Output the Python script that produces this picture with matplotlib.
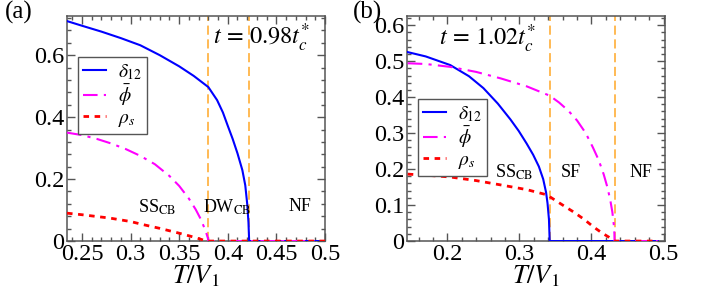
import matplotlib
matplotlib.use("Agg")
import matplotlib.pyplot as plt
from matplotlib.ticker import MultipleLocator

plt.rcParams['font.family'] = ['Liberation Serif', 'DejaVu Serif']
plt.rcParams['mathtext.fontset'] = 'stix'

# panel (a), t = 0.98 t_c*
Ta_delta = [0.2346, 0.25, 0.27, 0.29, 0.31, 0.33, 0.35, 0.365, 0.38, 0.389, 0.395,
            0.40, 0.405, 0.41, 0.415, 0.418, 0.42, 0.4213, 0.422, 0.45, 0.5]
a_delta = [0.71, 0.695, 0.676, 0.655, 0.632, 0.60, 0.564, 0.533, 0.497, 0.455, 0.415,
           0.372, 0.33, 0.283, 0.229, 0.18, 0.12, 0.06, 0.0, 0.0, 0.0]
Ta_phi = [0.2346, 0.25, 0.265, 0.28, 0.295, 0.31, 0.325, 0.34, 0.35, 0.36, 0.367,
          0.372, 0.376, 0.378, 0.3795, 0.38, 0.42, 0.5]
a_phi = [0.35, 0.342, 0.33, 0.315, 0.297, 0.275, 0.248, 0.21, 0.178, 0.137, 0.102,
         0.072, 0.042, 0.025, 0.01, 0.0, 0.0, 0.0]
Ta_rho = [0.2346, 0.25, 0.279, 0.30, 0.313, 0.33, 0.348, 0.36, 0.368, 0.374, 0.378, 0.42, 0.5]
a_rho = [0.09, 0.085, 0.074, 0.063, 0.053, 0.041, 0.027, 0.017, 0.01, 0.004, 0.0, 0.0, 0.0]
a_lines = [0.38, 0.4218]

# panel (b), t = 1.02 t_c*
Tb_delta = [0.145, 0.17, 0.204, 0.23, 0.25, 0.27, 0.2875, 0.299, 0.31, 0.319, 0.327,
            0.333, 0.337, 0.339, 0.341, 0.342, 0.38, 0.43, 0.492]
b_delta = [0.525, 0.513, 0.489, 0.458, 0.425, 0.382, 0.338, 0.306, 0.271, 0.24, 0.207,
           0.172, 0.135, 0.105, 0.06, 0.0, 0.0, 0.0, 0.0]
Tb_phi = [0.145, 0.17, 0.204, 0.24, 0.274, 0.31, 0.342, 0.355, 0.368, 0.38, 0.392,
          0.402, 0.41, 0.417, 0.422, 0.426, 0.429, 0.431, 0.4318, 0.432, 0.46, 0.492]
b_phi = [0.494, 0.492, 0.484, 0.47, 0.452, 0.43, 0.404, 0.385, 0.362, 0.335, 0.30,
         0.26, 0.225, 0.185, 0.15, 0.115, 0.08, 0.045, 0.02, 0.0, 0.0, 0.0]
Tb_rho = [0.145, 0.17, 0.204, 0.24, 0.274, 0.31, 0.339, 0.343, 0.36, 0.375, 0.39,
          0.403, 0.415, 0.424, 0.429, 0.431, 0.46, 0.492]
b_rho = [0.186, 0.183, 0.178, 0.168, 0.156, 0.143, 0.128, 0.122, 0.1, 0.081, 0.06,
         0.039, 0.022, 0.011, 0.004, 0.0, 0.0, 0.0]
b_lines = [0.343, 0.432]

fig = plt.figure(figsize=(7.06, 2.88), dpi=100)
ax1 = fig.add_axes([0.0949, 0.163, 0.3654, 0.781])
ax2 = fig.add_axes([0.5765, 0.163, 0.3654, 0.781])

def style(ax):
    ax.tick_params(which='both', direction='in', top=True, right=True,
                   labelsize=17.5, colors='#555555', labelcolor='black', width=1.0)
    ax.tick_params(which='major', length=5.8, pad=2)
    ax.tick_params(which='minor', length=3.2)
    for s in ax.spines.values():
        s.set_linewidth(1.1)
        s.set_color('#555555')

for ax, T1, d, T2, p, T3, r, vl in [(ax1, Ta_delta, a_delta, Ta_phi, a_phi, Ta_rho, a_rho, a_lines),
                                     (ax2, Tb_delta, b_delta, Tb_phi, b_phi, Tb_rho, b_rho, b_lines)]:
    for x in vl:
        ax.axvline(x, color='#ffa726', lw=1.1, ls=(0, (6, 3)), zorder=1)
    ax.plot(T1, d, color='#0000ff', lw=1.5, label=r'$\delta_{12}$', zorder=3)
    ax.plot(T2, p, color='#ff00ff', lw=1.5, ls=(0, (7, 3, 1.5, 3)), label=r'$\bar{\phi}$', zorder=3)
    ax.plot(T3, r, color='#ff0000', lw=2.0, ls=(0, (2, 2)), label=r'$\rho_s$', zorder=3)
    style(ax)
    ax.set_xlabel(r'$T/V_1$', fontsize=19, labelpad=-1)

ax1.set_xlim(0.2346, 0.5)
ax1.set_ylim(0, 0.726)
ax1.xaxis.set_minor_locator(MultipleLocator(0.01))
ax1.yaxis.set_minor_locator(MultipleLocator(0.04))
ax1.set_xticks([0.25, 0.3, 0.35, 0.4, 0.45, 0.5], ['0.25', '0.3', '0.35', '0.4', '0.45', '0.5'])
ax1.set_yticks([0, 0.2, 0.4, 0.6], ['0', '0.2', '0.4', '0.6'])

ax2.set_xlim(0.144, 0.502)
ax2.set_ylim(0, 0.625)
ax2.xaxis.set_minor_locator(MultipleLocator(0.02))
ax2.yaxis.set_minor_locator(MultipleLocator(0.02))
ax2.set_xticks([0.2, 0.3, 0.4, 0.5], ['0.2', '0.3', '0.4', '0.5'])
ax2.set_yticks([0, 0.1, 0.2, 0.3, 0.4, 0.5, 0.6], ['0', '0.1', '0.2', '0.3', '0.4', '0.5', '0.6'])

leg_kw = dict(fontsize=14, fancybox=False, edgecolor='#555555', framealpha=1,
              handlelength=1.2, borderpad=0.25, labelspacing=0.05, handletextpad=0.6,
              borderaxespad=0)
l1 = ax1.legend(loc='upper left', bbox_to_anchor=(0.043, 0.818), **leg_kw)
l2 = ax2.legend(loc='upper left', bbox_to_anchor=(0.043, 0.631), **leg_kw)
for l in (l1, l2):
    l.get_frame().set_linewidth(1.0)

ax1.text(0.435, 0.655, r'$t\,=\,0.98t_c^{*}$', fontsize=17.5, ha='center', va='center')
ax1.text(0.327, 0.11, r'SS$_{\rm CB}$', fontsize=13, ha='center', va='center')
ax1.text(0.399, 0.11, r'DW$_{\rm CB}$', fontsize=13, ha='center', va='center')
ax1.text(0.474, 0.11, 'NF', fontsize=13, ha='center', va='center')

ax2.text(0.255, 0.563, r'$t\,=\,1.02t_c^{*}$', fontsize=17.5, ha='center', va='center')
ax2.text(0.292, 0.19, r'SS$_{\rm CB}$', fontsize=13, ha='center', va='center')
ax2.text(0.371, 0.19, 'SF', fontsize=13, ha='center', va='center')
ax2.text(0.468, 0.19, 'NF', fontsize=13, ha='center', va='center')

fig.text(19 / 706, 1 - 12 / 288, '(a)', fontsize=18, ha='center', va='center')
fig.text(368 / 706, 1 - 12 / 288, '(b)', fontsize=18, ha='center', va='center')

fig.savefig('out.png', dpi=100)
